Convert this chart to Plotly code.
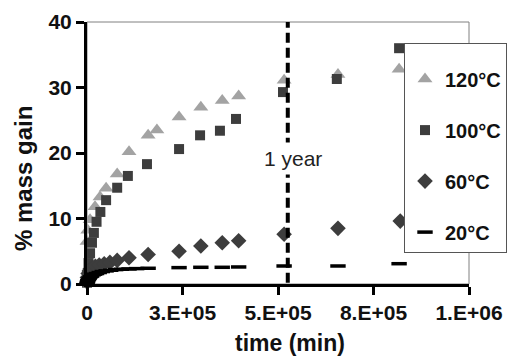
import plotly.graph_objects as go

# Mass gain (%) versus ageing time (min) at four temperatures
t_120 = [0, 2e3, 8e3, 21e3, 34e3, 50e3, 79e3, 110e3, 160e3, 183e3, 241e3, 298e3,
         354e3, 397e3, 516e3, 657e3, 817e3]
m_120 = [6.5, 8.2, 9.8, 11.8, 13.3, 14.6, 16.8, 20.2, 22.7, 23.5, 25.5, 27.0,
         28.0, 28.7, 31.1, 32.0, 32.8]

t_100 = [0, 2e3, 4e3, 8e3, 13e3, 18e3, 25e3, 35e3, 50e3, 79e3, 107e3, 157e3,
         241e3, 296e3, 348e3, 390e3, 513e3, 654e3, 817e3]
m_100 = [0.2, 1.7, 3.2, 4.7, 6.3, 7.8, 9.5, 11.0, 12.8, 14.7, 16.5, 18.3,
         20.6, 22.7, 23.4, 25.2, 29.3, 31.3, 36.0]

t_60 = [0, 1e3, 3e3, 6e3, 10e3, 15e3, 22e3, 32e3, 45e3, 60e3, 79e3, 110e3,
        160e3, 241e3, 298e3, 354e3, 397e3, 516e3, 657e3, 820e3]
m_60 = [0.3, 1.0, 1.6, 2.0, 2.3, 2.5, 2.7, 2.9, 3.1, 3.3, 3.6, 4.0,
        4.5, 5.0, 5.8, 6.3, 6.6, 7.6, 8.5, 9.6]

t_20 = [0, 1e3, 2e3, 4e3, 6e3, 9e3, 12e3, 16e3, 20e3, 25e3, 32e3, 40e3, 50e3,
        62e3, 75e3, 90e3, 110e3, 130e3, 160e3, 241e3, 298e3, 354e3, 397e3,
        516e3, 657e3, 817e3]
m_20 = [0.0, 0.3, 0.5, 0.7, 0.9, 1.1, 1.2, 1.4, 1.5, 1.6, 1.75, 1.9, 2.0,
        2.1, 2.2, 2.25, 2.3, 2.35, 2.4, 2.5, 2.55, 2.55, 2.6, 2.75, 2.75, 3.1]

x_tickvals = [0, 2.5e5, 5e5, 7.5e5, 1e6]
x_ticktext = ["0", "3.E+05", "5.E+05", "8.E+05", "1.E+06"]
y_tickvals = [0, 10, 20, 30, 40]

one_year_min = 525600

FONT = "Liberation Sans, Arial, sans-serif"

# plot-area geometry in pixels
L, R, T, B = 87, 39, 22, 72
PW, PH = 508 - L - R, 356 - T - B


def px_x(x):
    return (x - L) / PW


def px_y(y):
    return (356 - B - y) / PH


fig = go.Figure()

series = [
    ("120°C", t_120, m_120, dict(symbol="triangle-up", size=13, color="#a3a3a3")),
    ("100°C", t_100, m_100, dict(symbol="square", size=10, color="#3d3d3d")),
    ("60°C", t_60, m_60, dict(symbol="diamond", size=12, color="#3d3d3d")),
    ("20°C", t_20, m_20, dict(symbol="line-ew", size=11, color="#000000",
                              line=dict(width=3.5, color="#000000"))),
]
for name, tx, my, mk in series:
    fig.add_trace(go.Scatter(
        x=tx, y=my, mode="markers", name=name, marker=mk,
        legendgroup=name, cliponaxis=False,
    ))

# Thin frame on top and right
fig.add_shape(type="rect", xref="paper", yref="paper", x0=0, x1=1, y0=0, y1=1,
              line=dict(color="#808080", width=1), layer="below")

# One-year marker
fig.add_shape(type="line", x0=one_year_min, x1=one_year_min, y0=0.2, y1=40,
              line=dict(color="black", width=4, dash="10px,5px"))
fig.add_annotation(x=one_year_min, y=19.2, text="1 year", showarrow=False,
                   xanchor="center", yanchor="middle", xshift=5,
                   bgcolor="white", borderpad=4,
                   font=dict(family=FONT, size=21, color="#222"))

# Axis titles
fig.add_annotation(xref="paper", yref="paper", x=px_x(290), y=px_y(343),
                   xanchor="center", yanchor="middle",
                   text="<b>time (min)</b>", showarrow=False,
                   font=dict(family=FONT, size=23, color="#111"))
fig.add_annotation(xref="paper", yref="paper", x=px_x(23), y=px_y(179),
                   xanchor="center", yanchor="middle",
                   text="<b>% mass gain</b>", showarrow=False, textangle=-90,
                   font=dict(family=FONT, size=24, color="#111"))

axis_common = dict(
    showgrid=False, zeroline=False, showline=True, linecolor="black", linewidth=3,
    ticks="outside", ticklen=8, tickwidth=3, tickcolor="black",
    tickfont=dict(family=FONT, size=21, color="#111", weight="bold"),
)
fig.update_xaxes(range=[0, 1e6], tickvals=x_tickvals, ticktext=x_ticktext, **axis_common)
fig.update_yaxes(range=[0, 40], tickvals=y_tickvals, **axis_common)

fig.update_layout(
    width=508, height=356,
    margin=dict(l=L, r=R, t=T, b=B, autoexpand=False),
    plot_bgcolor="white", paper_bgcolor="white",
    font=dict(family=FONT),
    legend=dict(
        x=px_x(404), y=px_y(43), xanchor="left", yanchor="top",
        bordercolor="#555", borderwidth=1, bgcolor="white",
        font=dict(family=FONT, size=20, color="#111", weight="bold"),
        title=dict(text=" ", font=dict(size=12)),
        tracegroupgap=22, itemwidth=30,
    ),
)

fig.write_html("out.html")
